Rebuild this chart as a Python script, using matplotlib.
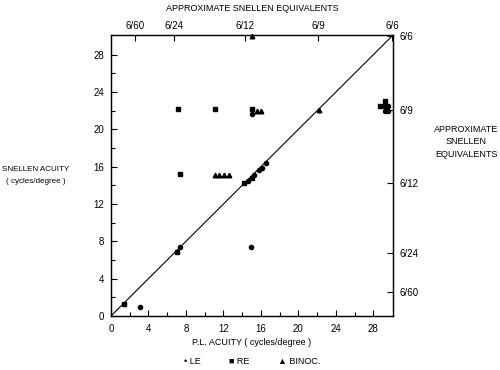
import matplotlib
matplotlib.use('Agg')
import matplotlib.pyplot as plt

plt.rcParams['font.family'] = ['Liberation Sans', 'DejaVu Sans']

# P.L. acuity (x) vs Snellen acuity (y), cycles/degree
le_x = [3.1, 7.4, 14.9, 15.0, 14.6, 15.3, 15.75, 16.1, 16.5, 29.6, 29.2, 29.6]
le_y = [1.0, 7.4, 7.4, 21.7, 14.5, 15.1, 15.6, 15.9, 16.4, 22.5, 22.0, 22.0]

re_x = [1.4, 7.0, 7.2, 11.1, 15.0, 7.4, 14.2, 15.0, 29.2, 28.7, 29.2]
re_y = [1.3, 6.9, 22.2, 22.2, 22.2, 15.2, 14.2, 14.8, 23.0, 22.5, 22.5]

bi_x = [15.6, 16.0, 11.05, 11.55, 12.05, 12.55, 15.0, 22.2]
bi_y = [22.0, 22.0, 15.1, 15.1, 15.1, 15.1, 30.0, 22.1]

ticks = [0, 4, 8, 12, 16, 20, 24, 28]
minor = [2, 6, 10, 14, 18, 22, 26]
snellen_pos = [2.6, 6.7, 14.3, 22.1, 30]
snellen_lab = ['6/60', '6/24', '6/12', '6/9', '6/6']

fs = 6.5

fig = plt.figure(figsize=(5, 3.7), dpi=100)
ax = fig.add_axes([0.222, 0.146, 0.564, 0.759])

ax.plot([0, 30], [0, 30], color='black', lw=0.8, zorder=1)
ax.plot(le_x, le_y, 'o', color='black', ms=3.0, ls='none', zorder=3)
ax.plot(re_x, re_y, 's', color='black', ms=3.3, ls='none', zorder=3)
ax.plot(bi_x, bi_y, '^', color='black', ms=3.3, ls='none', zorder=3, clip_on=False)

ax.set_xlim(0, 30.1)
ax.set_ylim(0, 30.1)
ax.set_xticks(ticks)
ax.set_yticks(ticks)
ax.set_xticks(minor, minor=True)
ax.set_yticks(minor, minor=True)
ax.tick_params(which='both', direction='in', labelsize=fs + 0.5, width=0.8)
ax.tick_params(axis='y', pad=5)
ax.tick_params(axis='x', pad=6)
ax.tick_params(which='major', length=4)
ax.tick_params(which='minor', length=3)
for s in ax.spines.values():
    s.set_linewidth(0.9)

ax_top = ax.twiny()
ax_top.set_xlim(ax.get_xlim())
ax_top.set_xticks(snellen_pos)
ax_top.set_xticklabels(snellen_lab)
ax_top.tick_params(direction='in', length=4, labelsize=fs + 0.5, pad=3)

ax_right = ax.twinx()
ax_right.set_ylim(ax.get_ylim())
ax_right.set_yticks(snellen_pos)
ax_right.set_yticklabels(snellen_lab)
ax_right.tick_params(direction='in', length=4, labelsize=fs + 0.5, pad=5)

fig.text(0.504, 0.978, 'APPROXIMATE SNELLEN EQUIVALENTS', ha='center', va='center', fontsize=fs)
fig.text(0.504, 0.073, 'P.L. ACUITY ( cycles/degree )', ha='center', va='center', fontsize=fs)
fig.text(0.072, 0.527, 'SNELLEN ACUITY\n( cycles/degree )', ha='center', va='center',
         fontsize=5.8, linespacing=2.0)
fig.text(0.932, 0.617, 'APPROXIMATE\nSNELLEN\nEQUIVALENTS', ha='center', va='center',
         fontsize=fs, linespacing=1.5)

# legend row
fig.text(0.385, 0.024, '\u2022 LE', ha='center', va='center', fontsize=fs)
fig.text(0.479, 0.024, '\u25a0 RE', ha='center', va='center', fontsize=fs)
fig.text(0.598, 0.024, '\u25b2 BINOC.', ha='center', va='center', fontsize=fs)

fig.savefig('out.png', dpi=100)
